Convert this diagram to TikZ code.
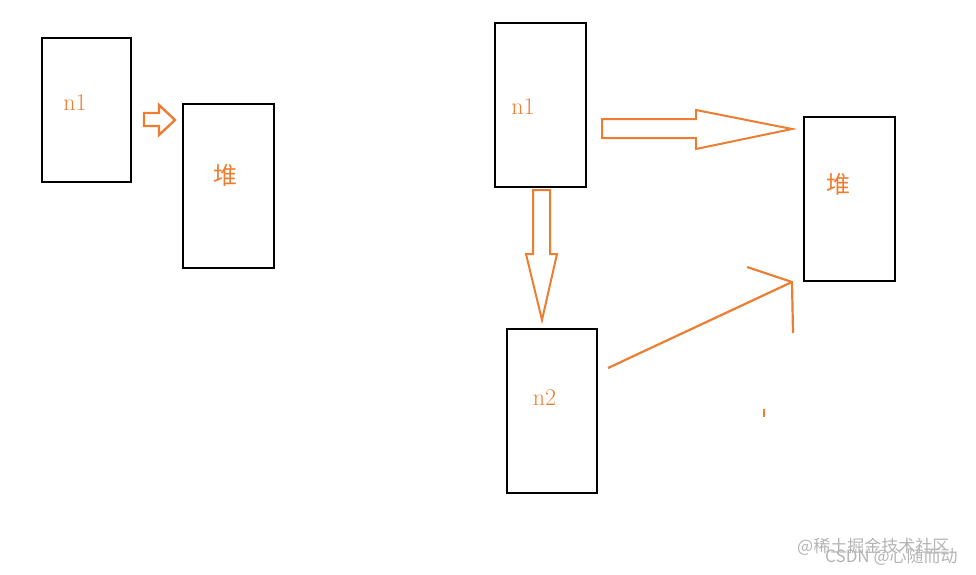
\documentclass[tikz,border=0pt]{standalone}
\usepackage{fontspec}
\setmainfont{Latin Modern Roman}
\newfontfamily\cjk{Noto Sans CJK SC}
\definecolor{og}{HTML}{ED7D31}
\definecolor{wm}{HTML}{B4B4B4}
\begin{document}
\begin{tikzpicture}[x=1pt,y=-1pt,
  box/.style={draw=black,line width=2.6pt,inner sep=0pt},
  lbl/.style={text=og,font=\fontsize{24}{24}\selectfont,inner sep=0pt},
  clbl/.style={text=og,font=\cjk\fontsize{24}{24}\selectfont,inner sep=0pt},
  outl/.style={draw=og,line width=2.4pt,line join=miter},
  thin/.style={draw=og,line width=2pt,line join=miter},
  wmk/.style={text=wm,font=\cjk\fontsize{17}{17}\selectfont,inner sep=0pt,anchor=west}]
\useasboundingbox (0,0) rectangle (976,574);
% boxes
\node[box,minimum width=89pt,minimum height=144pt] (ln1) at (86.5,110) {};
\node[box,minimum width=91pt,minimum height=164pt] (lheap) at (228.5,186) {};
\node[box,minimum width=91pt,minimum height=164pt] (rn1) at (540.5,105) {};
\node[box,minimum width=91pt,minimum height=164pt] (rheap) at (849.5,199) {};
\node[box,minimum width=90pt,minimum height=164pt] (n2) at (552,411) {};
% labels
\node[lbl] (t1) at (75,103) {n1};
\node[clbl] (t2) at (225.5,175) {堆};
\node[lbl] (t3) at (523,107) {n1};
\node[clbl] (t4) at (838,184) {堆};
\node[lbl] (t5) at (544.5,398) {n2};
% small block arrow
\draw[outl] (144,113) -- (159,113) -- (159,105) -- (175,120) -- (159,135) -- (159,126) -- (144,126) -- cycle;
% big right arrow
\draw[thin] (602,119) -- (696,119) -- (696,110) -- (792,129) -- (696,149) -- (696,138) -- (602,138) -- cycle;
% down arrow
\draw[thin] (533,190) -- (550,190) -- (550,254) -- (557,254) -- (542,320) -- (526,254) -- (533,254) -- cycle;
% hand-drawn connector
\coordinate (s) at (608,368);
\coordinate (e) at (792,282);
\coordinate (h) at (747,267);
\coordinate (v) at (793,333);
\draw[og,line width=2.2pt] (s) -- (e);
\draw[og,line width=2.2pt] (h) -- (e) -- (v);
\draw[og,line width=2.2pt] (764,409) -- (764,417);
% watermark
\node[wmk] (w1) at (797,547) {@稀土掘金技术社区};
\node[wmk] (w2) at (825,557) {CSDN @心随而动};
\end{tikzpicture}
\end{document}
